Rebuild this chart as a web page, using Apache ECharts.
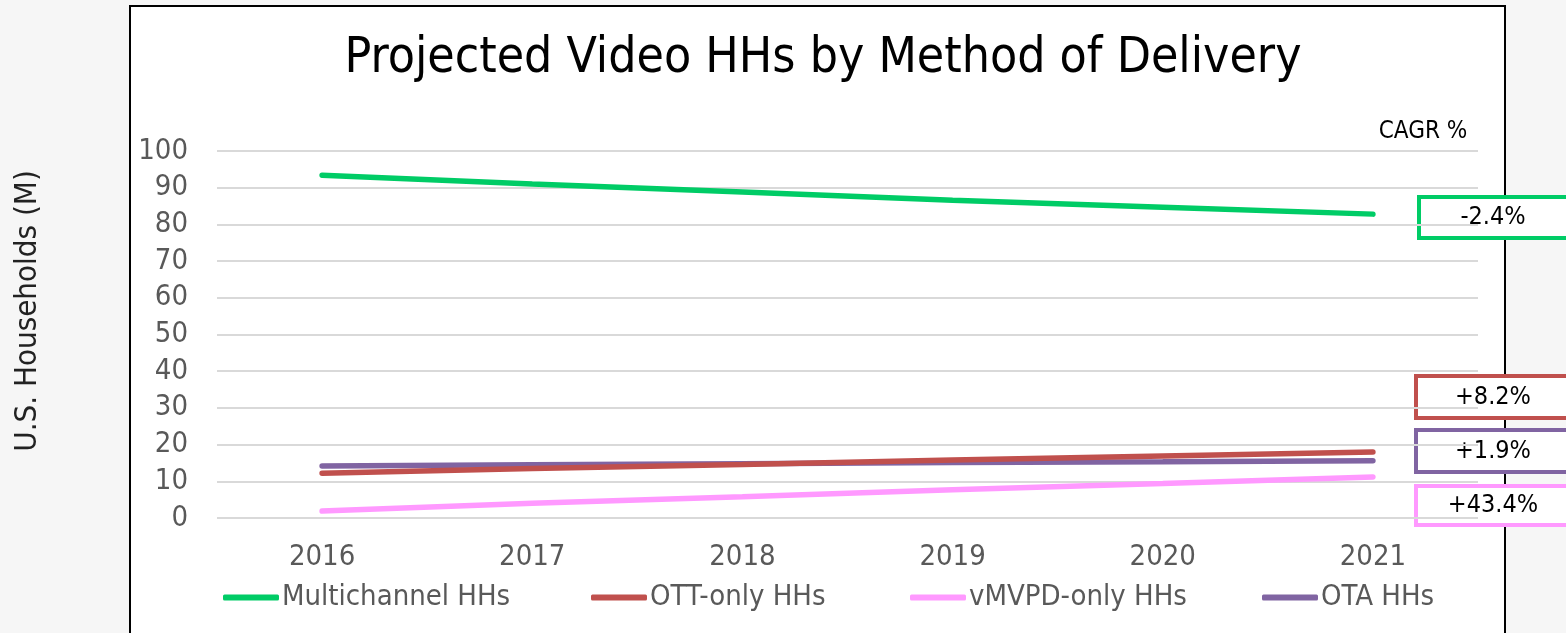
<!DOCTYPE html>
<html><head><meta charset="utf-8">
<script src="https://cdn.jsdelivr.net/npm/echarts@6/dist/echarts.min.js"></script>
<style>html,body{margin:0;padding:0;background:#f6f6f6}#c{width:1566px;height:633px}</style>
</head><body><div id="c"></div>
<script>
const years = ['2016','2017','2018','2019','2020','2021'];
const multichannel = [93.4, 91.0, 88.8, 86.6, 84.7, 82.8];
const ottOnly = [12.2, 13.5, 14.6, 15.8, 16.9, 18.0];
const vmvpdOnly = [1.9, 4.0, 5.8, 7.7, 9.4, 11.2];
const ota = [14.2, 14.5, 14.8, 15.1, 15.3, 15.6];
const seriesNames = ['Multichannel HHs','OTT-only HHs','vMVPD-only HHs','OTA HHs'];
const cagrLabels = ['-2.4%','+8.2%','+1.9%','+43.4%'];
const colors = ['#00cc66','#c0504d','#ff99ff','#8064a2'];

const chart = echarts.init(document.getElementById('c'));
const font = '"DejaVu Sans Condensed", "DejaVu Sans"';
const dataSets = [multichannel, ottOnly, vmvpdOnly, ota];
const legendLefts = [218, 586, 905, 1257];

function box(x, y, w, h, color, text) {
  return {
    type: 'group', left: x, top: y, z: 100,
    children: [
      {type:'rect', shape:{x:0,y:0,width:w,height:h}, style:{fill:'#fff', stroke: color, lineWidth:4}},
      {type:'text', style:{x:1491 - x, y:h/2, text:text, fill:'#000', fontFamily: font, fontSize: 25, align:'center', verticalAlign:'middle'}}
    ]
  };
}

chart.setOption({
  backgroundColor: '#f6f6f6',
  animation: false,
  title: {
    text: 'Projected Video HHs by Method of Delivery',
    left: 818, top: 29, textAlign: 'center',
    textStyle: {fontFamily: font, fontSize: 49.5, fontWeight: 'normal', color: '#000'}
  },
  legend: seriesNames.map((n, i) => ({
    data: [n], left: legendLefts[i], top: 578,
    icon: 'roundRect', itemWidth: 56, itemHeight: 6, itemGap: 0,
    textStyle: {fontFamily: font, fontSize: 29, color: '#595959', padding: [0,0,0,-2]}
  })),
  grid: {left: 217, right: 88, top: 151, bottom: 115},
  xAxis: {
    type: 'category', data: years, boundaryGap: true,
    axisLine: {show: false}, axisTick: {show: false},
    axisLabel: {fontFamily: font, fontSize: 29, color: '#595959', margin: 25}
  },
  yAxis: {
    type: 'value', min: 0, max: 100, interval: 10,
    axisLine: {show: false}, axisTick: {show: false},
    axisLabel: {fontFamily: font, fontSize: 29, color: '#595959', margin: 29},
    splitLine: {lineStyle: {color: '#d9d9d9', width: 2}}
  },
  series: seriesNames.map((n, i) => ({
    name: n, type: 'line', data: dataSets[i], symbol: 'none',
    lineStyle: {width: 5.5, color: colors[i], cap: 'round'},
    itemStyle: {color: colors[i]}, z: 10 - i
  })),
  graphic: [
    {type:'rect', z: -10, shape:{x:130, y:6, width:1375, height:640}, style:{fill:'#fff', stroke:'#000', lineWidth:2}},
    {type:'text', z: 50, x: 28, y: 311, rotation: Math.PI/2,
     style:{text:'U.S. Households (M)', fill:'#222', fontFamily: font, fontSize: 31, align:'center', verticalAlign:'middle'}},
    {type:'text', z: 50, style:{x:1423, y:132, text:'CAGR %', fill:'#000', fontFamily: font, fontSize: 24, align:'center', verticalAlign:'middle'}},
    box(1417, 195, 160, 41, colors[0], cagrLabels[0]),
    box(1414, 374, 160, 42, colors[1], cagrLabels[1]),
    box(1414, 428, 160, 42, colors[3], cagrLabels[2]),
    box(1414, 484, 160, 39, colors[2], cagrLabels[3])
  ]
});
</script></body></html>
